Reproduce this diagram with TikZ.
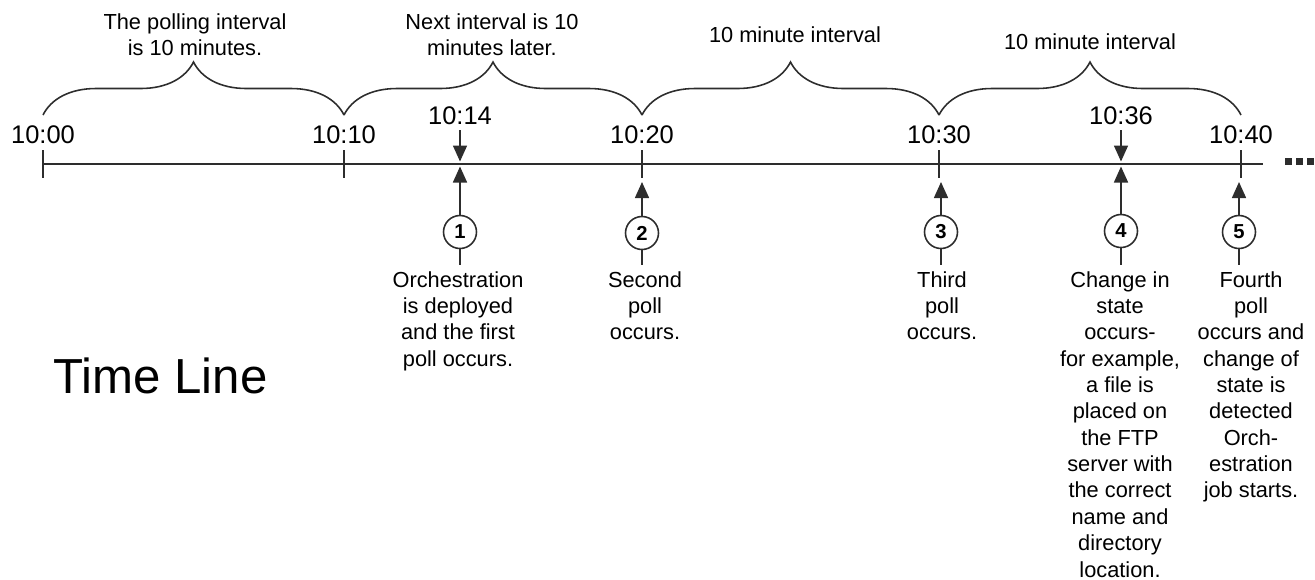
\documentclass[tikz,border=0pt]{standalone}
\usepackage{fontspec}
\setmainfont{Liberation Sans}
\usetikzlibrary{arrows.meta, positioning, decorations.pathreplacing, calc}
\usepackage{xcolor}
\definecolor{linhaescura}{RGB}{45, 45, 45}

\begin{document}
\begin{tikzpicture}[
                x=0.02cm, y=-0.02cm,
                hora/.style={font=\fontsize{14.5}{17}\selectfont, inner sep=0pt},
                nota/.style={font=\fontsize{12.4}{15}\selectfont, align=center, inner sep=0pt},
                desc/.style={nota, inner ysep=0.12cm, anchor=north},
                passo/.style={draw=linhaescura, circle, line width=0.9pt, minimum size=0.66cm, inner sep=0pt, font=\fontsize{11.5}{11.5}\selectfont\bfseries},
                chave/.style={decorate, decoration={brace, amplitude=1.06cm}, line width=0.9pt, color=linhaescura},
                seta/.style={-{Triangle[width=0.28cm, length=0.32cm]}, line width=0.9pt, color=linhaescura},
                linha/.style={line width=0.9pt, color=linhaescura}
            ]
                \useasboundingbox (0,0) rectangle (1315,579);

                \node[hora] (h00) at (43,135) {10:00};
                \node[hora] (h10) at (344,135) {10:10};
                \node[hora] (h20) at (642,135) {10:20};
                \node[hora] (h30) at (939,135) {10:30};
                \node[hora] (h40) at (1241,135) {10:40};
                \node[hora] (h14) at (460,116) {10:14};
                \node[hora] (h36) at (1121,116) {10:36};

                \coordinate (ini) at (43,164);
                \coordinate (fim) at (1263,164);
                \draw[linha] (ini) -- (fim);
                \foreach \x in {1285,1296,1307}
                    \fill[linhaescura] (\x,158) rectangle ++(7,7);
                \foreach \x in {43,344,642,939,1241}
                    \draw[linha] (\x,150) -- (\x,178);

                \draw[chave] (43,115) -- (344,115);
                \draw[chave] (344,115) -- (642,115);
                \draw[chave] (642,115) -- (939,115);
                \draw[chave] (939,115) -- (1241,115);
                \node[nota] (i1) at (195,35) {The polling interval\\is 10 minutes.};
                \node[nota] (i2) at (492,35) {Next interval is 10\\minutes later.};
                \node[nota] (i3) at (795,35) {10 minute interval};
                \node[nota] (i4) at (1090,42) {10 minute interval};

                \node[passo] (c1) at (460,232) {1};
                \node[passo] (c2) at (642,233) {2};
                \node[passo] (c3) at (941,232) {3};
                \node[passo] (c4) at (1121,231) {4};
                \node[passo] (c5) at (1239,232) {5};

                \node[desc] (d1) at (458,265) {Orchestration\\is deployed\\and the first\\poll occurs.};
                \node[desc] (d2) at (645,265) {Second\\poll\\occurs.};
                \node[desc] (d3) at (942,265) {Third\\poll\\occurs.};
                \node[desc] (d4) at (1120,265) {Change in\\state\\occurs-\\for example,\\a file is\\placed on\\the FTP\\server with\\the correct\\name and\\directory\\location.};
                \node[desc] (d5) at (1251,265) {Fourth\\poll\\occurs and\\change of\\state is\\detected\\Orch-\\estration\\job starts.};

                \coordinate (p14) at (460,164);
                \coordinate (p36) at (1121,164);
                \coordinate (q2) at (642,182);
                \coordinate (q3) at (941,182);
                \coordinate (q5) at (1239,182);

                \draw[seta, shorten >=0.05cm, shorten <=0.1cm] (h14) -- (p14);
                \draw[seta, shorten >=0.05cm, shorten <=0.1cm] (h36) -- (p36);
                \draw[seta, shorten >=0.05cm] (c1) -- (p14);
                \draw[seta, shorten >=0.05cm] (c4) -- (p36);
                \draw[seta] (c2) -- (q2);
                \draw[seta] (c3) -- (q3);
                \draw[seta] (c5) -- (q5);

                \draw[linha] (c1.south) -- (c1.south |- d1.north);
                \draw[linha] (c2.south) -- (c2.south |- d2.north);
                \draw[linha] (c3.south) -- (c3.south |- d3.north);
                \draw[linha] (c4.south) -- (c4.south |- d4.north);
                \draw[linha] (c5.south) -- (c5.south |- d5.north);

                \node[font=\fontsize{28}{30}\selectfont, anchor=base west, inner sep=0pt] (titulo) at (53,393) {Time Line};
            \end{tikzpicture}
\end{document}
